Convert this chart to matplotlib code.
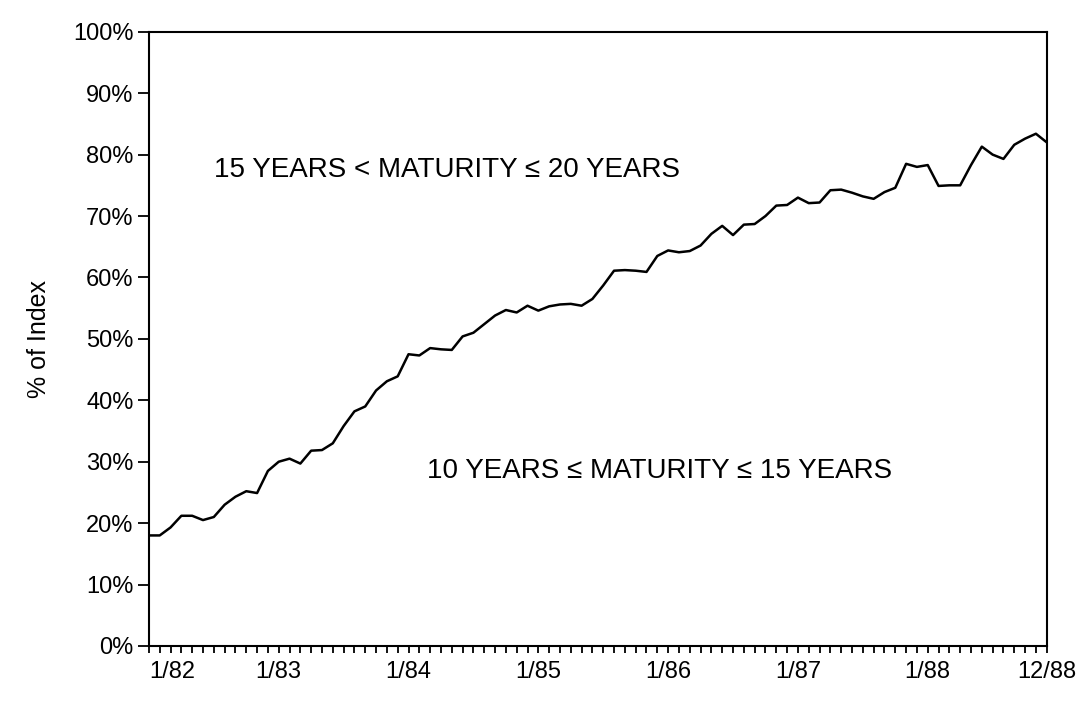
import numpy as np
import matplotlib.pyplot as plt
from matplotlib.ticker import FixedLocator, PercentFormatter

plt.rcParams['font.family'] = ['Liberation Sans', 'DejaVu Sans']

# share of the index (%) in the 10-15 year bucket, monthly 1/82 .. 12/88
share_10_15 = [
    18.0, 18.0, 19.3, 21.2, 21.2, 20.5, 21.0, 23.0, 24.3, 25.2, 24.9, 28.5,
    30.0, 30.5, 29.7, 31.8, 31.9, 33.0, 35.8, 38.2, 39.0, 41.6, 43.1, 43.9,
    47.5, 47.3, 48.5, 48.3, 48.2, 50.4, 51.0, 52.4, 53.8, 54.7, 54.3, 55.4,
    54.6, 55.3, 55.6, 55.7, 55.4, 56.5, 58.7, 61.1, 61.2, 61.1, 60.9, 63.5,
    64.4, 64.1, 64.3, 65.2, 67.1, 68.4, 66.9, 68.6, 68.7, 70.0, 71.7, 71.8,
    73.0, 72.1, 72.2, 74.2, 74.3, 73.8, 73.2, 72.8, 73.9, 74.6, 78.5, 78.0,
    78.3, 74.9, 75.0, 75.0, 78.3, 81.3, 80.0, 79.3, 81.6, 82.6, 83.4, 82.0,
]
tick_months = [0, 12, 24, 36, 48, 60, 72, 83]
tick_labels = ['1/82', '1/83', '1/84', '1/85', '1/86', '1/87', '1/88', '12/88']
upper_label = '15 YEARS < MATURITY ≤ 20 YEARS'
lower_label = '10 YEARS ≤ MATURITY ≤ 15 YEARS'

months = np.arange(len(share_10_15))

fig = plt.figure(figsize=(10.83, 7.06), dpi=100)
ax = fig.add_axes([0.1375, 0.085, 0.829, 0.870])

ax.plot(months, share_10_15, color='black', lw=1.8)

ax.set_xlim(0, len(share_10_15) - 1)
ax.set_ylim(0, 100)
ax.set_yticks(np.arange(0, 101, 10))
ax.yaxis.set_major_formatter(PercentFormatter(decimals=0))
ax.set_xticks(tick_months)
ax.set_xticklabels(tick_labels)
ax.xaxis.set_minor_locator(FixedLocator(months))
ax.get_xticklabels()[0].set_horizontalalignment('left')

ax.tick_params(axis='y', length=8, width=1.3, labelsize=17, pad=3)
ax.tick_params(axis='x', which='both', length=5, width=1.3, labelsize=17,
               pad=6, direction='out')
for s in ax.spines.values():
    s.set_linewidth(1.5)

ax.set_ylabel('% of Index', fontsize=18, labelpad=16)

ax.text(0.072, 0.775, upper_label, transform=ax.transAxes,
        fontsize=20, va='center', ha='left')
ax.text(0.31, 0.285, lower_label, transform=ax.transAxes,
        fontsize=20, va='center', ha='left')

fig.savefig('out.png', dpi=100)
